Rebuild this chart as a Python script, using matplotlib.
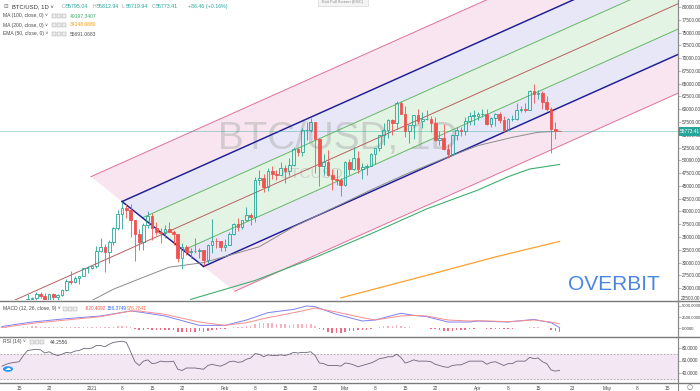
import numpy as np
import pandas as pd
import matplotlib
matplotlib.use("Agg")
import matplotlib.pyplot as plt
import matplotlib.dates as mdates
from matplotlib.patches import Rectangle, Polygon
from matplotlib.lines import Line2D

plt.rcParams['font.family'] = ['Liberation Sans', 'DejaVu Sans']

W, H = 700, 391

# ---- daily BTC/USD candles ----
dates = pd.date_range('2020-12-11', '2021-04-20', freq='D')
opens = [18540, 18050, 18800, 19170, 19270, 19440, 21370, 22800, 23130, 23860, 23480, 22740, 23820, 23240, 23730, 24710, 26490, 26280, 27080, 27360, 28880,
         28950, 29370, 32190, 33000, 31990, 33990, 36820, 39470, 40670, 40240, 38240, 35540, 34010, 37390, 39150, 36770, 36010, 35800, 36630, 36070, 35540, 30830, 33010, 32100, 32290, 32270, 32510, 30430, 33470, 34320, 34280,
         33110, 33530, 35510, 37620, 36940, 38290, 39260, 38900, 46200, 46480, 44850, 48010, 47410, 47200, 48600, 47930, 49170, 52150, 51680, 55890, 56000, 57490, 54100, 48880, 49700, 47060, 46340, 46190,
         45140, 49630, 48380, 50540, 48370, 48760, 48880, 51210, 52380, 54880, 55850, 57800, 57230, 61190, 59010, 55650, 56900, 58910, 57650, 58030, 58100, 57350, 54080, 54340, 52300, 51290, 55030, 55850, 55780, 57630, 58730,
         58760, 59000, 59120, 57050, 58200, 59120, 57970, 56000, 58090, 58090, 59770, 59980, 59860, 63580, 62970, 63220, 61390, 60030, 56150, 55795]
highs = [18560, 18950, 19400, 19350, 19560, 21560, 23800, 23280, 24170, 24300, 24100, 23840, 24100, 23800, 24770, 26870, 28420, 27400, 27390, 28990, 29300,
         29600, 33300, 34800, 33600, 34500, 36900, 40200, 41950, 41400, 41400, 38300, 36600, 37800, 40100, 39700, 37900, 36800, 37400, 37850, 36400, 35600, 33800, 33480, 32950, 34880, 32900, 32560, 33600, 38500, 34900, 34300,
         34700, 35900, 37700, 38700, 38300, 40950, 39700, 46700, 48100, 47300, 48500, 48900, 48150, 49700, 49000, 50500, 52600, 52500, 56300, 57500, 58350, 57530, 54200, 51300, 52000, 48400, 48300, 46600,
         49800, 50200, 52600, 51800, 49400, 49200, 51450, 52400, 54900, 57350, 58100, 58000, 61700, 61600, 60600, 56900, 58950, 60000, 59450, 59900, 58600, 58400, 55800, 57200, 53200, 55100, 56600, 56550, 58400, 59400, 59800,
         59450, 60100, 60000, 58500, 59200, 59450, 58600, 58200, 58900, 61200, 60600, 61200, 63750, 64850, 63800, 63500, 62500, 60400, 57500, 55813]
lows = [17600, 18020, 18720, 19000, 19050, 19280, 21230, 22350, 22750, 23060, 22350, 22350, 22700, 22700, 23430, 24520, 25850, 26100, 25880, 27350, 27960,
        28700, 29000, 32000, 28130, 29900, 33400, 36300, 36600, 38700, 35100, 30400, 32500, 32500, 36700, 34400, 35400, 33850, 34800, 35900, 33400, 30070, 28800, 31400, 30900, 31950, 30850, 29240, 29950, 31950, 32850, 32200,
        32300, 33450, 35400, 36200, 36600, 38200, 37400, 37900, 45100, 43800, 44000, 46300, 46250, 47050, 45600, 47100, 48950, 50900, 50800, 53900, 55500, 47600, 45000, 47100, 46900, 44200, 45200, 43000,
        45000, 47100, 48200, 47500, 46300, 47100, 48880, 49300, 51900, 53000, 54300, 55000, 56100, 59000, 54600, 53300, 54200, 57100, 56300, 57800, 55500, 53700, 53000, 52000, 50400, 51250, 53900, 54700, 54900, 57000, 56900,
        57950, 58500, 56900, 56600, 56800, 57400, 55500, 55900, 57700, 57900, 59400, 59400, 59800, 61300, 62050, 60000, 59700, 51500, 54200, 55720]
closes = [18050, 18800, 19170, 19270, 19440, 21370, 22800, 23130, 23860, 23480, 22740, 23820, 23240, 23730, 24710, 26490, 26280, 27080, 27360, 28880, 28950,
          29370, 32190, 33000, 31990, 33990, 36820, 39470, 40670, 40240, 38240, 35540, 34010, 37390, 39150, 36770, 36010, 35800, 36630, 36070, 35540, 30830, 33010, 32100, 32290, 32270, 32510, 30430, 33470, 34320, 34280, 33110,
          33530, 35510, 37620, 36940, 38290, 39260, 38900, 46200, 46480, 44850, 48010, 47410, 47200, 48600, 47930, 49170, 52150, 51680, 55890, 56000, 57490, 54100, 48880, 49700, 47060, 46340, 46190, 45140,
          49630, 48380, 50540, 48370, 48760, 48880, 51210, 52380, 54880, 55850, 57800, 57230, 61190, 59010, 55650, 56900, 58910, 57650, 58030, 58100, 57350, 54080, 54340, 52300, 51290, 55030, 55850, 55780, 57630, 58730, 58760,
          59000, 59120, 57050, 58200, 59120, 57970, 56000, 58090, 58090, 59770, 59980, 59860, 63580, 62970, 63220, 61390, 60030, 56150, 55687, 55773]
last_price = 55773.41

# moving averages
ema50_dates = ['2020-12-25', '2021-01-01', '2021-01-06', '2021-01-12', '2021-01-19', '2021-01-27', '2021-02-09', '2021-02-17',
               '2021-02-27', '2021-03-08', '2021-03-16', '2021-03-23', '2021-04-01', '2021-04-09', '2021-04-15', '2021-04-20']
ema50_vals = [20500, 22600, 24800, 26800, 29100, 30000, 33100, 37000, 41000, 44600, 47600, 50000, 52900, 54500, 55500, 55691]
ma100_dates = ['2021-01-24', '2021-02-08', '2021-02-22', '2021-03-08', '2021-03-20', '2021-04-01', '2021-04-08', '2021-04-13', '2021-04-20']
ma100_vals = [22800, 26500, 31000, 36000, 40500, 44200, 46800, 48300, 49197]
ma200_dates = ['2021-02-28', '2021-03-20', '2021-04-05', '2021-04-20']
ma200_vals = [23100, 27500, 31100, 34149]

# parallel channel: two anchors on the upper edge, one on the lower edge
chan_upper = [('2021-01-08', 41950), ('2021-04-20', 80200)]
chan_lower = ('2021-01-27', 29240)
chan_levels = [-0.382, 0, 0.25, 0.5, 0.75, 1, 1.382]

# MACD (12, 26, close, 9)
macd_dates = ['2020-12-11', '2020-12-18', '2020-12-26', '2021-01-03', '2021-01-10', '2021-01-12', '2021-01-18', '2021-01-26',
              '2021-02-01', '2021-02-06', '2021-02-11', '2021-02-14', '2021-02-17', '2021-02-20', '2021-02-22', '2021-02-27',
              '2021-03-05', '2021-03-08', '2021-03-13', '2021-03-14', '2021-03-17', '2021-03-20', '2021-03-25', '2021-03-30',
              '2021-04-01', '2021-04-08', '2021-04-14', '2021-04-18', '2021-04-20']
macd_line = [400, 1400, 2150, 2750, 3860, 3640, 2750, 660, 660, 1850, 3490, 3860, 4230, 4980, 4830, 3120,
             1630, 1850, 3120, 3350, 2890, 2600, 1400, 1400, 1630, 1400, 1990, 1260, 156]
signal_line = [170, 1100, 1850, 2600, 3860, 3860, 3120, 1400, 660, 1250, 2380, 2900, 3490, 4080, 4530, 3640,
               2380, 1850, 2600, 2750, 2890, 2750, 1850, 1630, 1700, 1480, 1850, 1400, 977]
macd_hist = [200, 180, 170, 150, 140, 250, 380, 420, 440, 400, 330, 320, 260, 230, 250, 350, 340, 330, 300, 330, 300,
             270, 380, 400, 270, 290, 380, 500, 520, 430, 220, -100, -350, -300, -180, -300, -380, -420, -400, -420, -440, -800, -820, -830, -800, -750, -680, -720, -550, -400, -300, -250,
             -170, 0, 220, 300, 400, 480, 480, 950, 1150, 1100, 1200, 1150, 1050, 1000, 850, 820, 900, 850, 1000, 950, 900, 500, -100, -450, -750, -950, -1000, -1000,
             -800, -700, -500, -480, -400, -300, -150, 30, 250, 420, 550, 550, 700, 600, 300, 180, 170, 100, 60, 20, -50, -250, -370, -550, -700, -600, -480, -400, -280, -150, -80,
             -30, 0, -130, -120, -60, -100, -200, -140, -110, 0, 40, 60, 260, 300, 290, 170, 20, -400, -620, -820]

# RSI (14)
rsi_vals = [51, 54, 56, 57, 58, 68, 76, 77, 78, 77, 72, 74, 70, 68, 70, 73, 72, 75, 76, 79, 79,
            80, 84, 84, 82, 86, 89, 90, 91, 89, 74, 58, 52, 59, 61, 55, 56, 59, 58, 58, 59, 46, 44, 48, 48, 48, 47, 46, 52, 54, 52, 51,
            54, 58, 59, 57, 58, 62, 64, 71, 70, 66, 69, 68, 68, 69, 68, 70, 73, 72, 73, 73, 74, 68, 56, 55, 52, 52, 52, 51,
            56, 55, 53, 50, 52, 54, 56, 59, 63, 64, 66, 66, 70, 65, 56, 58, 61, 59, 59, 59, 58, 54, 52, 50, 49, 52, 53, 53, 56, 59, 59,
            59, 59, 54, 57, 58, 55, 52, 55, 55, 59, 59, 59, 65, 63, 64, 58, 55, 45, 43, 44.26]

xtick_dates = ['2020-12-15', '2020-12-22', '2021-01-01', '2021-01-08', '2021-01-15', '2021-01-22', '2021-02-01', '2021-02-08',
               '2021-02-15', '2021-02-22', '2021-03-01', '2021-03-08', '2021-03-15', '2021-03-22', '2021-04-01', '2021-04-08',
               '2021-04-15', '2021-04-23', '2021-05-01', '2021-05-08', '2021-05-15']
xtick_labels = ['15', '22', '2021', '8', '15', '22', 'Feb', '8', '15', '22', 'Mar', '8', '15', '22', 'Apr', '8', '15', '23', 'May', '8', '15']

TEAL = '#26a69a'
RED = '#ef5350'


def d2n(s):
    return mdates.date2num(pd.Timestamp(s))


def rect(x0, y0, x1, y1):
    return [x0 / W, 1 - y1 / H, (x1 - x0) / W, (y1 - y0) / H]


fig = plt.figure(figsize=(7, 3.91), dpi=100)
ax = fig.add_axes(rect(0, 0, 678, 300))
ax_m = fig.add_axes(rect(0, 300, 678, 337), sharex=ax)
ax_r = fig.add_axes(rect(0, 337, 678, 382), sharex=ax)

jan1 = d2n('2021-01-01')
xmin, xmax = jan1 - 21.45, jan1 + 136.6
ax.set_xlim(xmin, xmax)
ax.set_ylim(22683, 81369)
ax_m.set_ylim(-1942, 6317)
ax_r.set_ylim(25.6, 97.6)

for a, fs in ((ax, 3.4), (ax_m, 3.05), (ax_r, 3.3)):
    for s in ('left', 'top', 'bottom'):
        a.spines[s].set_visible(False)
    a.spines['right'].set_color('#8a8a8a')
    a.spines['right'].set_linewidth(0.8)
    a.yaxis.tick_right()
    a.tick_params(axis='y', labelsize=fs, colors='#8a8a8a', labelcolor='#444444', length=2, width=0.4, pad=0.8)
    a.tick_params(axis='x', length=0)

# ---- channel ----
du, pu = d2n(chan_upper[0][0]), chan_upper[0][1]
slope = (chan_upper[1][1] - pu) / (d2n(chan_upper[1][0]) - du)
dl, pl = d2n(chan_lower[0]), chan_lower[1]
width = pl - (pu + slope * (dl - du))


def level_price(L, d):
    return pu + slope * (d - du) + L * width


def level_start(L):
    return du + L * (dl - du)


xend = xmax + 5
band_colors = ['#f9e5ef', '#e7e7f8', '#e4f4e4', '#e4f4e4', '#e7e7f8', '#f9e5ef']
for i in range(len(chan_levels) - 1):
    La, Lb = chan_levels[i], chan_levels[i + 1]
    sa, sb = level_start(La), level_start(Lb)
    poly = [(sa, level_price(La, sa)), (xend, level_price(La, xend)),
            (xend, level_price(Lb, xend)), (sb, level_price(Lb, sb))]
    ax.add_patch(Polygon(poly, closed=True, facecolor=band_colors[i], edgecolor='none', zorder=1))

line_styles = {-0.382: ('#e0709a', 0.7), 0: ('#1c1c96', 1.05), 0.25: ('#63b863', 0.7), 0.5: ('#b86060', 0.7),
               0.75: ('#63b863', 0.7), 1: ('#1c1c96', 1.05), 1.382: ('#e0709a', 0.7)}
for L in chan_levels:
    s = level_start(L) if L != 0.5 else xmin - 5
    col, lw = line_styles[L]
    ax.plot([s, xend], [level_price(L, s), level_price(L, xend)], color=col, lw=lw, zorder=2)
ax.plot([du, dl], [level_price(0, du), level_price(1, dl)], color='#1c1c96', lw=1.05, zorder=2)

# ---- watermark ----
ax.text(218 / W, 1 - 149 / H, 'BTC/USD, 1D', transform=fig.transFigure, fontsize=27.8,
        color='#b4b4b4', alpha=0.55, zorder=1.5, va='baseline')
ax.text(312 / W, 1 - 178 / H, 'BTCUSD', transform=fig.transFigure, fontsize=11,
        color='#b4b4b4', alpha=0.5, zorder=1.5, va='baseline', ha='center')

# ---- moving averages ----
ax.plot(mdates.date2num(pd.to_datetime(ema50_dates)), ema50_vals, color='#8c8c8c', lw=0.7, zorder=2.5)
ax.plot(mdates.date2num(pd.to_datetime(ma100_dates)), ma100_vals, color='#3fae6e', lw=0.8, zorder=2.5)
ax.plot(mdates.date2num(pd.to_datetime(ma200_dates)), ma200_vals, color='#ff9f2e', lw=0.9, zorder=2.5)

# last price line
ax.axhline(last_price, color=TEAL, lw=0.6, alpha=0.45, zorder=2.6)

# ---- candles ----
xs = mdates.date2num(dates)
bw = 0.62
for x, o, h, l, c in zip(xs, opens, highs, lows, closes):
    if c >= o:
        ax.vlines(x, c, h, color=TEAL, lw=0.6, zorder=3)
        ax.vlines(x, l, o, color=TEAL, lw=0.6, zorder=3)
        ax.add_patch(Rectangle((x - bw / 2, o), bw, max(c - o, 60), facecolor='none',
                               edgecolor=TEAL, lw=0.6, zorder=3))
    else:
        ax.vlines(x, l, h, color=RED, lw=0.6, zorder=3)
        ax.add_patch(Rectangle((x - bw / 2, c), bw, o - c, facecolor=RED,
                               edgecolor=RED, lw=0.6, zorder=3))

ax.set_yticks(np.arange(25000, 80001, 2500))
ax.yaxis.set_major_formatter(matplotlib.ticker.FuncFormatter(lambda v, p: f'{v:.2f}'))
plt.setp(ax.get_xticklabels(), visible=False)

ax.text(614 / W, 1 - 284 / H, 'OVERBIT', transform=fig.transFigure, fontsize=15,
        color='#4a86e0', ha='center', va='center', zorder=5)

# ---- MACD ----
mx = mdates.date2num(pd.to_datetime(macd_dates))
hist = np.array(macd_hist)
ax_m.bar(xs, hist, width=0.35, color=np.where(hist >= 0, '#f5b3c2', '#ef6b82'), zorder=2)
ax_m.plot(mx, macd_line, color='#8080f5', lw=0.7, zorder=3)
ax_m.plot(mx, signal_line, color='#f58e8e', lw=0.7, zorder=3)
ax_m.set_yticks([0, 2500, 5000])
ax_m.yaxis.set_major_formatter(matplotlib.ticker.FuncFormatter(lambda v, p: f'{v:.4f}'))
plt.setp(ax_m.get_xticklabels(), visible=False)

# ---- RSI ----
ax_r.axhspan(30, 70, color='#f4e7f4', zorder=1)
ax_r.axhline(70, color='#a8a8a8', lw=0.6, ls=(0, (2, 2)), zorder=2)
ax_r.axhline(30, color='#a8a8a8', lw=0.6, ls=(0, (2, 2)), zorder=2)
ax_r.plot(xs, rsi_vals, color='#6d6478', lw=0.6, zorder=3)
ax_r.set_yticks([40, 60, 80])
ax_r.yaxis.set_major_formatter(matplotlib.ticker.FuncFormatter(lambda v, p: f'{v:.4f}'))
ax_r.set_xticks(mdates.date2num(pd.to_datetime(xtick_dates)))
ax_r.set_xticklabels(xtick_labels)
ax_r.tick_params(axis='x', labelsize=3.4, labelcolor='#444444', pad=3)

# ---- frame lines ----
for yy in (300.5, 336.8, 382.5):
    fig.add_artist(Line2D([0, 1], [1 - yy / H] * 2, transform=fig.transFigure, color='#7a7a7a', lw=1.0))
fig.add_artist(Line2D([678 / W] * 2, [0, 1], transform=fig.transFigure, color='#8a8a8a', lw=0.8))
fig.text(681 / W, 1 - 299 / H, '22500.00', fontsize=3.4, color='#444444', va='center')

# price tag
fig.add_artist(Rectangle((678 / W, 1 - 135.5 / H), 22 / W, 8.5 / H, transform=fig.transFigure,
                         facecolor=TEAL, edgecolor='none'))
fig.text(680 / W, 1 - 131.3 / H, '55773.41', fontsize=3.4, color='white', va='center')


# ---- legends ----
def ftext(x, y, s, **kw):
    kw.setdefault('fontsize', 3.6)
    kw.setdefault('color', '#4a4a4a')
    fig.text(x / W, 1 - y / H, s, va='center', **kw)


def boxes(x, y):
    for i in range(3):
        fig.add_artist(Rectangle(((x + i * 5) / W, 1 - (y + 2) / H), 4 / W, 4 / H, transform=fig.transFigure,
                                 facecolor='#ececec', edgecolor='#a0a0a0', lw=0.3))


ftext(3, 6.5, '⊟', fontsize=4, color='#777777')
ftext(12, 6.5, 'BTC/USD, 1D ˅', fontsize=4.2, color='#333333')
for lx, lab, val in [(62, 'O', '55795.04'), (93, 'H', '55812.94'), (122, 'L', '55719.94'), (152, 'C', '55773.41')]:
    ftext(lx, 6.5, lab, fontsize=3.8, color='#9a9a9a')
    ftext(lx + 3.5, 6.5, val, fontsize=3.8, color=TEAL)
ftext(188, 6.5, '+86.46 (+0.16%)', fontsize=3.8, color=TEAL)

ftext(3, 16, 'MA (100, close, 0) ˅')
boxes(52, 16)
ftext(70, 16, '49197.3407', color='#3fae6e')
ftext(3, 25, 'MA (200, close, 0) ˅')
boxes(52, 25)
ftext(70, 25, '34148.6880', color='#ff9800')
ftext(3, 34, 'EMA (50, close, 0) ˅')
boxes(52, 34)
ftext(70, 34, '55691.0683', color='#555555')

ftext(3, 308.5, 'MACD (12, 26, close, 9) ˅')
boxes(63, 308.5)
ftext(85, 308.5, '-820.4092', color=RED, fontsize=3.4)
ftext(107, 308.5, '156.3749', color='#2962ff', fontsize=3.4)
ftext(127, 308.5, '976.7841', color='#ff6d4a', fontsize=3.4)

ftext(3, 342, 'RSI (14) ˅')
boxes(30, 342)
ftext(50, 342, '44.2556')

# exit full screen hint
fig.add_artist(Rectangle((318 / W, 1 - 6 / H), 50 / W, 9 / H, transform=fig.transFigure,
                         facecolor='#f4f4f4', edgecolor='#cfcfcf', lw=0.4))
ftext(343, 2.5, 'Exit Full Screen (ESC)', fontsize=3, color='#8a8a8a', ha='center')

# small icons
fig.add_artist(matplotlib.patches.Circle((8 / W, 1 - 369 / H), 5 / W, transform=fig.transFigure,
                                         facecolor='#2196f3', edgecolor='none'))
fig.text(8 / W, 1 - 369 / H, '☁', fontsize=4.5, color='white', ha='center', va='center',
         family='DejaVu Sans')
fig.text(690 / W, 1 - 387.5 / H, '○', fontsize=5, color='#666666', ha='center', va='center',
         family='DejaVu Sans')

fig.savefig('out.png', dpi=100)
